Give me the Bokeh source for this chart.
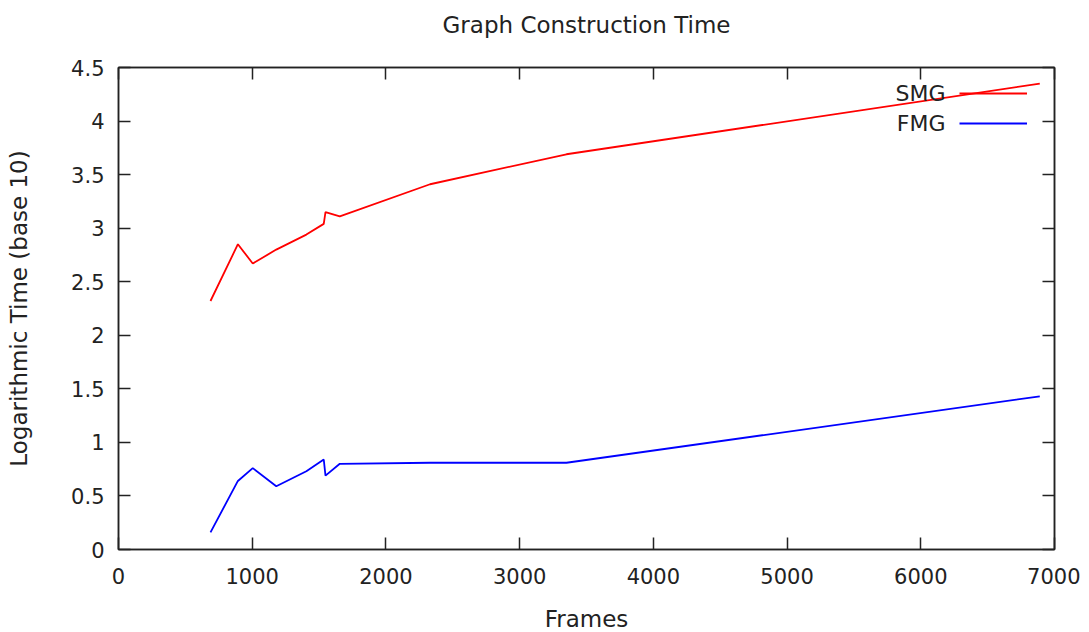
from bokeh.plotting import figure
from bokeh.models import (Range1d, LinearAxis, FixedTicker, CustomJSTickFormatter,
                          Legend, LegendItem, Label)
from bokeh.embed import file_html
from bokeh.resources import INLINE

# ---- data ----
frames = [688, 893, 1004, 1180, 1405, 1535, 1548, 1655, 2330, 3350, 6890]
smg_log_time = [2.32, 2.85, 2.67, 2.80, 2.94, 3.04, 3.15, 3.11, 3.41, 3.69, 4.35]
fmg_log_time = [0.16, 0.64, 0.76, 0.59, 0.73, 0.84, 0.69, 0.80, 0.81, 0.81, 1.43]

x_ticks = [0, 1000, 2000, 3000, 4000, 5000, 6000, 7000]
y_ticks = [0, 0.5, 1, 1.5, 2, 2.5, 3, 3.5, 4, 4.5]
series_names = ["SMG", "FMG"]
series_colors = ["#ff0000", "#0000ff"]
title_text = "Graph Construction Time"

FONT = "DejaVu Sans"
FS_TICK = "21px"
FS_LABEL = "23px"
FS_LEG = "22px"
TXT = "#222222"

p = figure(width=1080, height=649, output_backend="svg", toolbar_location=None,
           x_range=Range1d(0, 7000), y_range=Range1d(0, 4.5),
           min_border_left=118, min_border_right=26, min_border_top=67, min_border_bottom=100)

p.xgrid.visible = False
p.ygrid.visible = False
p.background_fill_color = "white"
p.border_fill_color = "white"
p.outline_line_color = "#222222"
p.outline_line_width = 1.5

fmt = CustomJSTickFormatter(code="return tick.toString();")
blank = CustomJSTickFormatter(code="return '';")

def style_axis(ax, ticks, labels=True):
    ax.ticker = FixedTicker(ticks=ticks)
    ax.formatter = fmt if labels else blank
    ax.major_tick_in = 12
    ax.major_tick_out = 0
    ax.minor_tick_in = 0
    ax.minor_tick_out = 0
    ax.major_tick_line_color = "#222222"
    ax.major_tick_line_width = 1.5
    ax.axis_line_color = "#222222"
    ax.axis_line_width = 1.5
    ax.major_label_text_font = FONT
    ax.major_label_text_font_size = FS_TICK
    ax.major_label_text_color = TXT
    ax.axis_label_text_font = FONT
    ax.axis_label_text_font_size = FS_LABEL
    ax.axis_label_text_font_style = "normal"
    ax.axis_label_text_color = TXT

style_axis(p.xaxis[0], x_ticks)
p.xaxis[0].axis_label = "Frames"
p.xaxis[0].major_label_standoff = 18
p.xaxis[0].axis_label_standoff = 19

style_axis(p.yaxis[0], y_ticks)
p.yaxis[0].axis_label = "Logarithmic Time (base 10)"
p.yaxis[0].major_label_standoff = 14
p.yaxis[0].axis_label_standoff = 36

# top axis: mirror ticks, carries the chart title as its label
top = LinearAxis()
style_axis(top, x_ticks, labels=False)
top.major_label_standoff = 0
top.axis_label = title_text
top.axis_label_standoff = 30
p.add_layout(top, "above")

right = LinearAxis()
style_axis(right, y_ticks, labels=False)
right.major_label_standoff = 0
p.add_layout(right, "right")

r_smg = p.line(frames, smg_log_time, line_color=series_colors[0], line_width=1.8)
r_fmg = p.line(frames, fmg_log_time, line_color=series_colors[1], line_width=1.8)

legend = Legend(items=[LegendItem(label=" ", renderers=[r_smg]),
                       LegendItem(label=" ", renderers=[r_fmg])],
                location=(841, 411), glyph_width=68, glyph_height=30,
                label_width=0, label_height=30, label_standoff=0,
                padding=0, margin=0, spacing=0,
                background_fill_alpha=0, border_line_alpha=0,
                label_text_font_size=FS_LEG)
p.add_layout(legend)

for i, name in enumerate(series_names):
    p.add_layout(Label(x=827, y=456 - 30 * i, x_units="screen", y_units="screen",
                       text=name, text_align="right", text_baseline="middle",
                       text_font=FONT, text_font_size=FS_LEG, text_color=TXT))

open("out.html", "w").write(file_html(p, INLINE))
